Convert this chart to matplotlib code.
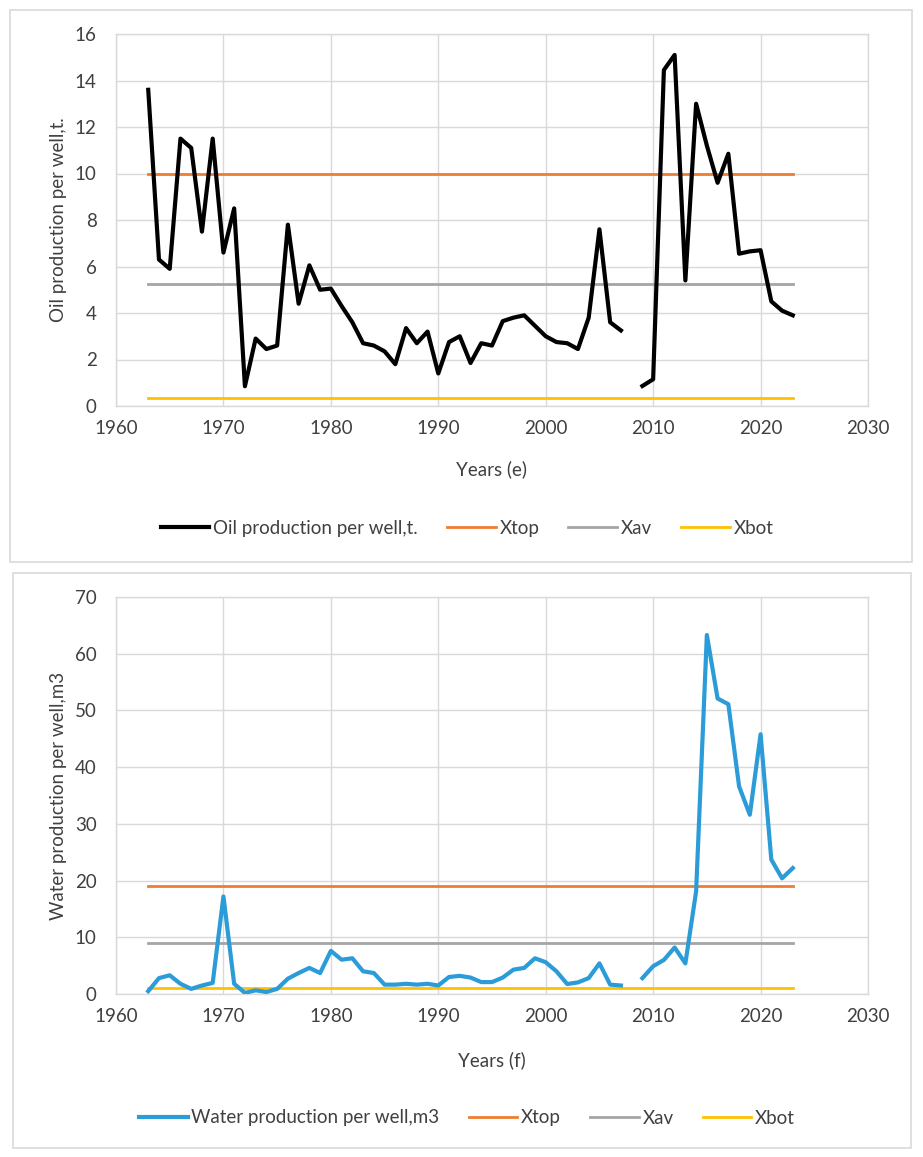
import numpy as np
import matplotlib.pyplot as plt
from matplotlib.patches import Rectangle

plt.rcParams['font.family'] = ['Lato', 'DejaVu Sans']

years = list(range(1963, 2024))

# 2008 is missing in both series
oil = [13.6, 6.3, 5.9, 11.5, 11.1, 7.5, 11.5, 6.6, 8.5, 0.85,
       2.9, 2.45, 2.6, 7.8, 4.4, 6.05, 5.0, 5.05, 4.3, 3.6,
       2.7, 2.6, 2.35, 1.8, 3.35, 2.7, 3.2, 1.4, 2.75, 3.0,
       1.85, 2.7, 2.6, 3.65, 3.8, 3.9, 3.45, 3.0, 2.75, 2.7,
       2.45, 3.8, 7.6, 3.6, 3.25, np.nan, 0.86, 1.15, 14.45, 15.1,
       5.4, 13.0, 11.2, 9.6, 10.85, 6.55, 6.65, 6.7, 4.5, 4.1, 3.9]

water = [0.5, 2.8, 3.3, 1.8, 0.9, 1.5, 1.95, 17.2, 1.8, 0.2,
         0.65, 0.35, 0.9, 2.7, 3.7, 4.6, 3.7, 7.6, 6.05, 6.3,
         4.0, 3.7, 1.65, 1.65, 1.8, 1.65, 1.8, 1.5, 3.0, 3.2,
         2.9, 2.1, 2.1, 2.9, 4.3, 4.6, 6.3, 5.6, 4.0, 1.76,
         2.05, 2.8, 5.4, 1.65, 1.5, np.nan, 2.8, 4.9, 6.0, 8.2,
         5.4, 18.1, 63.3, 52.1, 51.1, 36.6, 31.6, 45.8, 23.7, 20.4, 22.2]

oil_limits = {'Xtop': 10.0, 'Xav': 5.26, 'Xbot': 0.33}
water_limits = {'Xtop': 19.0, 'Xav': 9.0, 'Xbot': 1.05}

limit_colors = {'Xtop': '#ED7D31', 'Xav': '#A5A5A5', 'Xbot': '#FFC000'}
text_color = '#404040'
grid_color = '#d9d9d9'
fs = 13.5

W, H = 923, 1157
fig = plt.figure(figsize=(W / 100, H / 100), dpi=100)


def px_rect(x0, y0, x1, y1):
    return [x0 / W, 1 - y1 / H, (x1 - x0) / W, (y1 - y0) / H]


# panel frames
for x0, y0, x1, y1 in [(10, 10, 912, 562), (13, 573, 911, 1148)]:
    r = px_rect(x0, y0, x1, y1)
    fig.patches.append(Rectangle((r[0], r[1]), r[2], r[3], transform=fig.transFigure,
                                 facecolor='none', edgecolor=grid_color, lw=1.2, zorder=-1))


def draw(ax, values, color, label, limits, ymax, ystep, xlabel, ylabel, xlab_y, legend_y):
    ax.plot(years, values, color=color, lw=3.0, label=label, zorder=3)
    for name, v in limits.items():
        ax.plot([years[0], years[-1]], [v, v], color=limit_colors[name], lw=2.0, label=name, zorder=2)
    ax.set_xlim(1960, 2030)
    ax.set_ylim(0, ymax)
    ax.set_xticks(range(1960, 2031, 10))
    ax.set_yticks(np.arange(0, ymax + 0.1, ystep))
    ax.grid(True, color=grid_color, lw=1.0)
    ax.set_axisbelow(True)
    for s in ax.spines.values():
        s.set_color(grid_color)
        s.set_linewidth(1.0)
    ax.tick_params(length=0, labelsize=fs, colors=text_color, pad=10)
    ax.tick_params(axis='y', pad=14)
    ax.set_xlabel(xlabel, fontsize=fs, color=text_color, va='center')
    ax.set_ylabel(ylabel, fontsize=fs, color=text_color, va='center')
    ax.xaxis.set_label_coords(0.5, xlab_y)
    ax.yaxis.set_label_coords(-0.076, 0.5)
    h, l = ax.get_legend_handles_labels()
    fig.legend(h, l, loc='center', bbox_to_anchor=(467 / W, 1 - legend_y / H), ncol=4,
               frameon=False, fontsize=fs, handlelength=2.6, handletextpad=0.2,
               columnspacing=1.55, labelcolor=text_color)


ax1 = fig.add_axes(px_rect(116, 34, 868, 406))
draw(ax1, oil, 'black', 'Oil production per well,t.', oil_limits, 16, 2,
     'Years (e)', 'Oil production per well,t.', -(469 - 406) / 372, 528)

ax2 = fig.add_axes(px_rect(116, 597, 868, 994))
draw(ax2, water, '#2B9CD8', 'Water production per well,m3', water_limits, 70, 10,
     'Years (f)', 'Water production per well,m3', -(1060 - 994) / 397, 1118)

fig.savefig('out.png', dpi=100)
